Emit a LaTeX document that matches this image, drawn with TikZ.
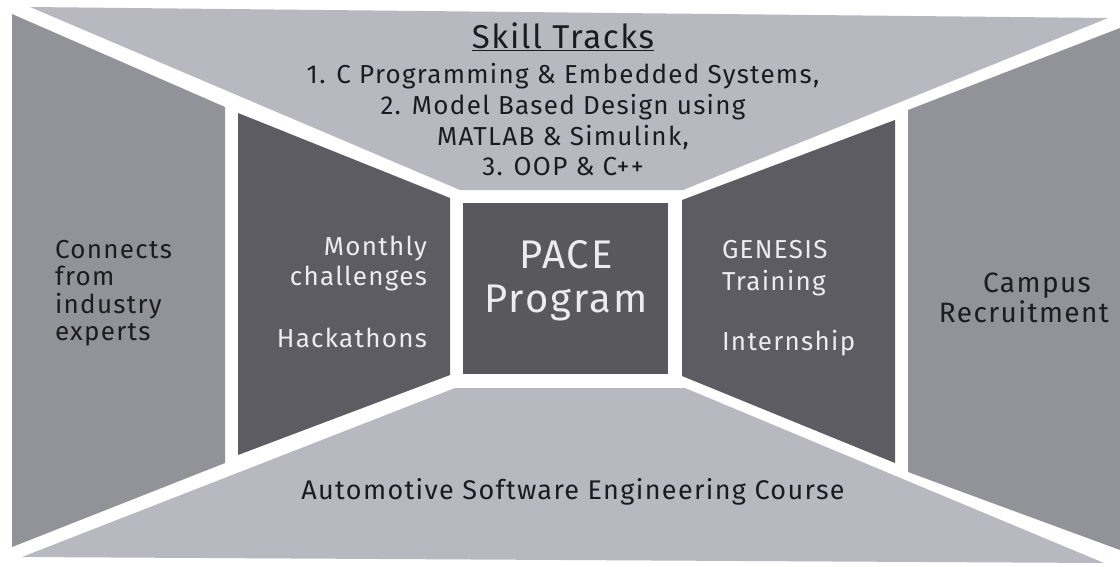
\documentclass[tikz,border=0pt]{standalone}
\usepackage{fontspec}
\setmainfont{Fira Sans}[LetterSpace=5]
\definecolor{lightp}{RGB}{184,184,193}
\definecolor{midp}{RGB}{146,146,153}
\definecolor{darkp}{RGB}{92,92,98}
\definecolor{centerp}{RGB}{88,88,93}
\definecolor{inkd}{RGB}{28,28,32}
\definecolor{inkw}{RGB}{236,236,240}
\begin{document}
\begin{tikzpicture}[x=1pt,y=-1pt,
  txt/.style={inner sep=0pt,outer sep=0pt,text=inkd,font=\fontsize{26}{30}\selectfont},
  wtxt/.style={txt,text=inkw},
  bigtxt/.style={inner sep=0pt,outer sep=0pt,text=inkw,font=\fontsize{40}{45}\selectfont}]
\useasboundingbox (0,0) rectangle (1120,566);
\fill[white] (0,0) rectangle (1120,566);
% panels
\fill[lightp] (30,7) -- (1108,18) -- (683,190) -- (460,190) -- cycle;
\fill[lightp] (22,557) -- (1104,563) -- (685,388) -- (455,388) -- cycle;
\fill[midp] (12,14) -- (225,107) -- (225,463) -- (12,547) -- cycle;
\fill[darkp] (238,113) -- (450,198) -- (450,375) -- (238,455) -- cycle;
\fill[centerp] (463,203) rectangle (668,374);
\fill[darkp] (682,200) -- (895,120) -- (895,463) -- (682,376) -- cycle;
\fill[midp] (908,110) -- (1120,28) -- (1120,550) -- (908,472) -- cycle;
% top texts
\node[txt,anchor=base,font=\fontsize{33}{38}\selectfont] (title) at (563,48) {\underline{Skill Tracks}};
\node[txt,anchor=base] (t1) at (563,83) {1. C Programming \& Embedded Systems,};
\node[txt,anchor=base] (t2) at (563,114) {2. Model Based Design using};
\node[txt,anchor=base] (t3) at (563,145) {MATLAB \& Simulink,};
\node[txt,anchor=base] (t4) at (563,175) {3. OOP \& C++};
% center
\node[bigtxt,anchor=base] (pace) at (566,268) {PACE};
\node[bigtxt,anchor=base] (prog) at (566,312) {Program};
% left dark
\node[wtxt,anchor=base east] (m1) at (427,255) {Monthly};
\node[wtxt,anchor=base east] (m2) at (427,285) {challenges};
\node[wtxt,anchor=base east] (hk) at (427,347) {Hackathons};
% right dark
\node[wtxt,anchor=base west] (g1) at (722,258) {GENESIS};
\node[wtxt,anchor=base west] (g2) at (722,290) {Training};
\node[wtxt,anchor=base west] (in) at (722,350) {Internship};
% left outer
\node[txt,anchor=base west] (c1) at (55,258) {Connects};
\node[txt,anchor=base west] (c2) at (55,285) {from};
\node[txt,anchor=base west] (c3) at (55,313) {industry};
\node[txt,anchor=base west] (c4) at (55,340) {experts};
% right outer
\node[txt,anchor=base,font=\fontsize{28}{32}\selectfont] (r1) at (1037,292) {Campus};
\node[txt,anchor=base,font=\fontsize{28}{32}\selectfont] (r2) at (1024,322) {Recruitment};
% bottom
\node[txt,anchor=base,font=\fontsize{27}{31}\selectfont] (bt) at (573,499) {Automotive Software Engineering Course};
\end{tikzpicture}
\end{document}
